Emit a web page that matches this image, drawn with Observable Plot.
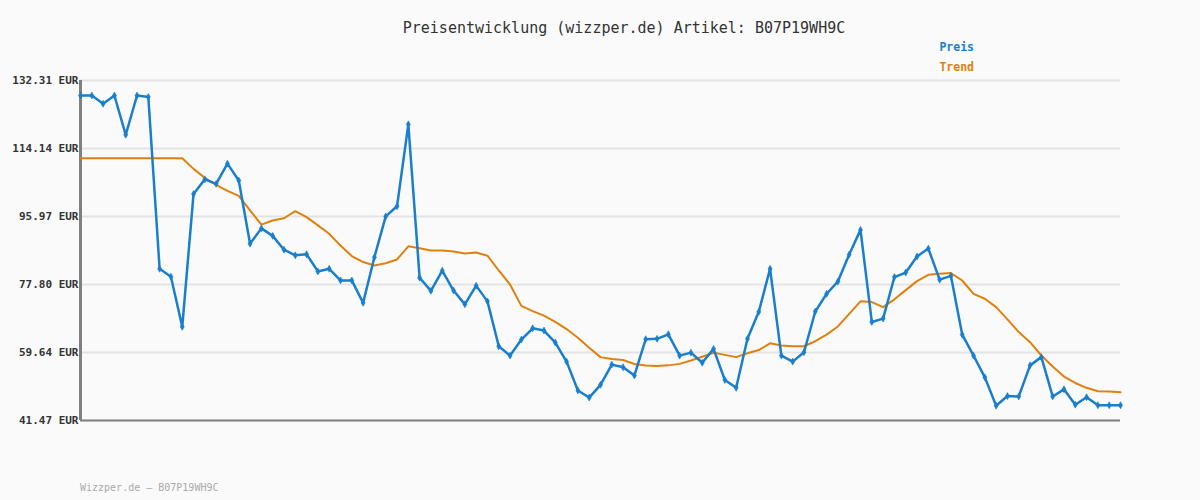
<!DOCTYPE html>
<html><head><meta charset="utf-8">
<script src="https://cdn.jsdelivr.net/npm/d3@7"></script>
<script src="https://cdn.jsdelivr.net/npm/@observablehq/plot@0.6"></script>
<style>
body{margin:0;background:#fafafa;}
#chart{width:1200px;height:500px;}
</style></head><body>
<div id="chart"></div>
<script>
const titleText = "Preisentwicklung (wizzper.de) Artikel: B07P19WH9C";
const footerText = "Wizzper.de – B07P19WH9C";
const seriesNames = ["Preis", "Trend"];
const yTicks = [41.47, 59.64, 77.80, 95.97, 114.14, 132.31];

const preis = [128.3,128.3,126.1,128.3,117.8,128.3,127.9,82.0,79.9,66.5,
  102.0,105.9,104.7,110.1,105.6,88.7,92.8,90.8,87.1,85.6,
  85.9,81.3,82.0,78.9,78.9,72.9,85.1,96.0,98.7,120.6,
  79.6,76.1,81.5,76.2,72.5,77.5,73.3,61.3,58.8,63.1,
  66.1,65.5,62.3,57.2,49.5,47.6,51.0,56.4,55.7,53.5,
  63.2,63.3,64.5,58.8,59.6,56.9,60.6,52.3,50.2,63.3,
  70.5,82.0,58.8,57.2,59.7,70.6,75.3,78.6,85.8,92.4,
  67.8,68.7,79.8,81.0,85.3,87.4,79.1,80.1,64.4,58.8,
  53.0,45.4,48.0,47.9,56.2,58.4,47.9,49.8,45.7,47.7,
  45.55,45.55,45.55];

const trend = [111.55,111.55,111.55,111.55,111.55,111.55,111.55,111.55,111.55,111.55,
  108.7,106.3,104.4,102.8,101.5,97.6,93.8,94.9,95.5,97.4,
  95.8,93.6,91.35,88.2,85.4,83.8,82.9,83.5,84.5,88.0,
  87.5,86.9,86.9,86.6,86.1,86.35,85.5,81.55,77.8,72.1,
  70.7,69.5,67.8,65.9,63.6,60.9,58.4,57.9,57.65,56.55,
  56.16,56.0,56.2,56.6,57.5,58.5,59.56,59.0,58.4,59.45,
  60.3,62.1,61.5,61.3,61.3,62.65,64.4,66.6,69.96,73.3,
  73.1,71.75,73.85,76.3,78.7,80.4,80.7,80.85,78.87,75.3,
  74.0,71.75,68.5,65.1,62.4,58.84,55.9,53.2,51.5,50.2,
  49.3,49.2,49.0];

const blue = "#1a7fcb";
const orange = "#e0800f";
const preisData = preis.map((v, i) => ({i, v}));
const trendData = trend.map((v, i) => ({i, v}));
const FONT = "'DejaVu Sans Mono', monospace";

const plot = Plot.plot({
  width: 1200,
  height: 500,
  marginLeft: 80,
  marginRight: 80,
  marginTop: 80,
  marginBottom: 80,
  style: {background: "#fafafa", fontFamily: FONT},
  x: {domain: [0, preis.length - 1], axis: null},
  y: {domain: [yTicks[0], yTicks[yTicks.length - 1]], axis: null},
  marks: [
    Plot.gridY(yTicks, {stroke: "#e3e3e3", strokeOpacity: 1, strokeWidth: 2}),
    Plot.axisY(yTicks, {tickSize: 0, tickPadding: 2, label: null, tickFormat: d => d.toFixed(2) + " EUR",
      fontSize: 11, fontWeight: "bold", fill: "#333"}),
    Plot.ruleY([yTicks[0]], {stroke: "#808080", strokeWidth: 2}),
    Plot.ruleX([0], {stroke: "#808080", strokeWidth: 3}),
    Plot.line(trendData, {x: "i", y: "v", stroke: orange, strokeWidth: 2}),
    Plot.line(preisData, {x: "i", y: "v", stroke: blue, strokeWidth: 2.5}),
    Plot.dot(preisData, {x: "i", y: "v", symbol: "diamond", r: 2.1, fill: blue, stroke: blue, strokeWidth: 0.6})
  ]
});
document.getElementById("chart").appendChild(plot);

const svg = d3.select(plot);
svg.append("text").attr("x", 624).attr("y", 33).attr("text-anchor", "middle")
  .attr("font-family", FONT).attr("font-size", 15).attr("fill", "#333")
  .text(titleText);
svg.append("text").attr("x", 974).attr("y", 51).attr("text-anchor", "end")
  .attr("font-family", FONT).attr("font-size", 11.5).attr("font-weight", "bold")
  .attr("fill", blue).text(seriesNames[0]);
svg.append("text").attr("x", 974).attr("y", 71).attr("text-anchor", "end")
  .attr("font-family", FONT).attr("font-size", 11.5).attr("font-weight", "bold")
  .attr("fill", orange).text(seriesNames[1]);
svg.append("text").attr("x", 80).attr("y", 491).attr("text-anchor", "start")
  .attr("font-family", FONT).attr("font-size", 10).attr("fill", "#aaa")
  .text(footerText);
</script>
</body></html>
